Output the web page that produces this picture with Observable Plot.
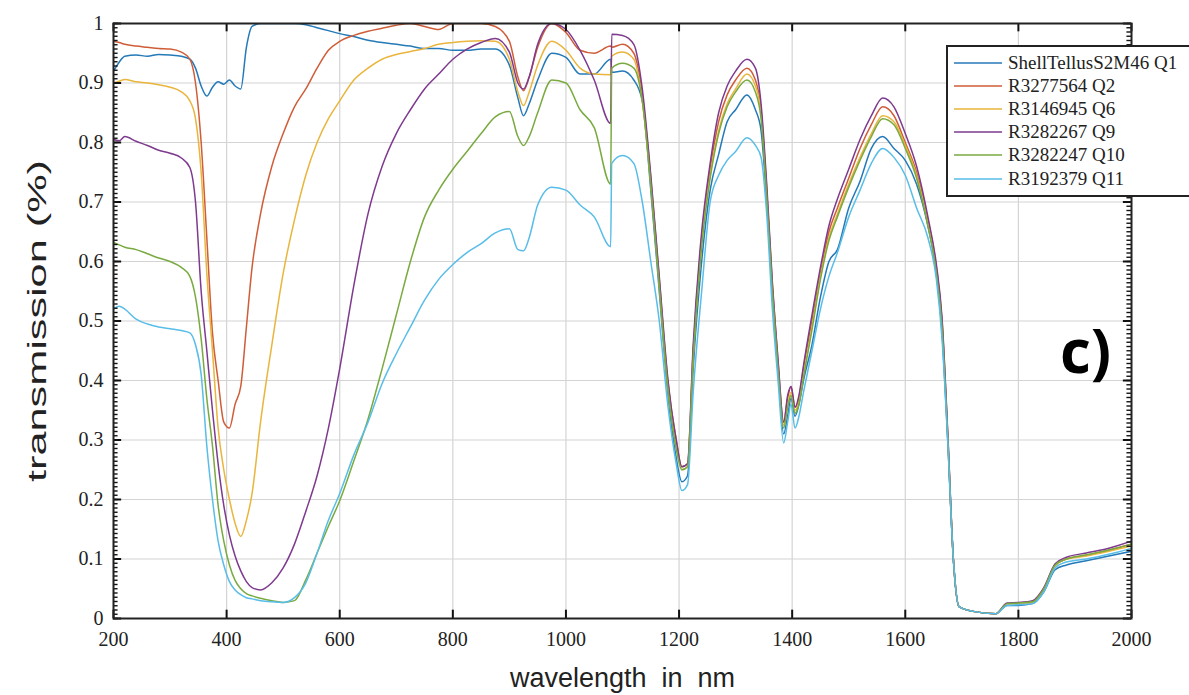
<!DOCTYPE html>
<html>
<head>
<meta charset="utf-8">
<script src="https://cdn.jsdelivr.net/npm/d3@7"></script>
<script src="https://cdn.jsdelivr.net/npm/@observablehq/plot@0.6"></script>
<style>
  html, body { margin: 0; padding: 0; background: #fff; overflow: hidden; }
  #wrap { position: relative; width: 1189px; height: 695px; }
  #legend { position: absolute; left: 946px; top: 45px; width: 270px; height: 152px; border: 2px solid #222; background: #fff; box-sizing: border-box; font-family: "Liberation Serif", "DejaVu Serif", serif; font-size: 19px; color: #222; }
  .row { position: absolute; left: 6px; height: 23px; display: flex; align-items: center; white-space: nowrap; }
  .row svg { margin-right: 6px; }
  #tag { position: absolute; left: 1060px; top: 309px; font-family: "Open Sans", sans-serif; font-weight: 700; font-size: 60px; color: #000; }
</style>
</head>
<body>
<div id="wrap"></div>
<script>
// ---- data ----
const seriesNames = ["ShellTellusS2M46 Q1", "R3277564 Q2", "R3146945 Q6", "R3282267 Q9", "R3282247 Q10", "R3192379 Q11"];
const seriesColors = ["#2479b8", "#cf5d38", "#e9b53c", "#7e3a8e", "#79aa40", "#58bde8"];

const wavelength = [200,210,220,240,260,280,300,320,335,345,355,365,375,385,395,405,415,425,435,445,460,480,500,520,540,560,580,600,625,650,675,700,725,750,775,800,825,850,875,900,915,925,935,950,975,1000,1025,1050,1079,1081,1100,1120,1135,1150,1165,1180,1195,1205,1215,1225,1240,1255,1270,1285,1300,1320,1335,1345,1355,1365,1375,1385,1392,1398,1405,1412,1420,1435,1450,1465,1480,1500,1520,1540,1560,1580,1600,1620,1640,1655,1665,1675,1685,1695,1720,1760,1780,1800,1825,1845,1865,1885,1920,1960,2000];

const q1 = [0.92,0.935,0.945,0.947,0.945,0.948,0.947,0.945,0.94,0.925,0.895,0.878,0.893,0.902,0.898,0.905,0.895,0.89,0.96,0.995,1.0,1.0,1.0,1.0,0.998,0.993,0.988,0.983,0.978,0.972,0.968,0.965,0.962,0.958,0.958,0.955,0.955,0.957,0.957,0.93,0.875,0.845,0.865,0.905,0.95,0.943,0.915,0.915,0.94,0.918,0.92,0.905,0.87,0.72,0.55,0.38,0.27,0.23,0.24,0.42,0.6,0.72,0.78,0.835,0.855,0.88,0.855,0.82,0.7,0.55,0.42,0.31,0.34,0.37,0.34,0.36,0.4,0.46,0.54,0.6,0.62,0.69,0.735,0.79,0.81,0.79,0.77,0.73,0.66,0.58,0.48,0.3,0.1,0.02,0.012,0.008,0.022,0.022,0.025,0.045,0.082,0.09,0.097,0.105,0.113];

const q2 = [0.97,0.968,0.965,0.962,0.96,0.958,0.957,0.952,0.94,0.9,0.8,0.64,0.48,0.4,0.33,0.32,0.36,0.39,0.49,0.59,0.68,0.76,0.815,0.86,0.89,0.925,0.955,0.97,0.98,0.987,0.992,0.997,1.0,0.995,0.99,1.0,1.0,1.0,0.995,0.97,0.91,0.887,0.91,0.96,1.0,0.985,0.955,0.95,0.962,0.96,0.965,0.95,0.88,0.74,0.57,0.4,0.3,0.255,0.26,0.45,0.64,0.755,0.835,0.88,0.905,0.925,0.905,0.855,0.72,0.56,0.43,0.33,0.37,0.39,0.355,0.37,0.42,0.5,0.58,0.65,0.69,0.74,0.79,0.83,0.86,0.845,0.8,0.75,0.67,0.59,0.5,0.31,0.1,0.02,0.012,0.008,0.025,0.026,0.028,0.05,0.09,0.1,0.106,0.115,0.125];

const q6 = [0.9,0.903,0.906,0.902,0.9,0.897,0.893,0.885,0.87,0.84,0.75,0.58,0.45,0.32,0.25,0.2,0.16,0.138,0.165,0.21,0.33,0.46,0.58,0.67,0.745,0.8,0.84,0.87,0.905,0.925,0.94,0.948,0.953,0.958,0.965,0.968,0.97,0.971,0.97,0.94,0.885,0.862,0.885,0.93,0.97,0.955,0.925,0.915,0.914,0.945,0.952,0.94,0.87,0.73,0.56,0.39,0.29,0.25,0.255,0.44,0.63,0.745,0.82,0.865,0.89,0.915,0.895,0.85,0.715,0.555,0.42,0.325,0.36,0.38,0.35,0.365,0.41,0.49,0.575,0.64,0.68,0.73,0.775,0.815,0.845,0.835,0.795,0.745,0.665,0.585,0.495,0.31,0.1,0.02,0.012,0.008,0.025,0.025,0.027,0.05,0.088,0.1,0.105,0.113,0.122];

const q9 = [0.805,0.803,0.81,0.802,0.795,0.787,0.782,0.774,0.758,0.7,0.55,0.45,0.35,0.26,0.19,0.14,0.105,0.08,0.062,0.052,0.048,0.06,0.085,0.125,0.18,0.24,0.32,0.42,0.56,0.68,0.76,0.815,0.855,0.89,0.915,0.94,0.957,0.968,0.975,0.952,0.9,0.89,0.91,0.965,1.0,0.99,0.955,0.905,0.832,0.982,0.98,0.965,0.89,0.745,0.575,0.405,0.3,0.255,0.26,0.46,0.65,0.765,0.85,0.895,0.92,0.94,0.925,0.865,0.73,0.565,0.435,0.33,0.375,0.39,0.355,0.375,0.425,0.51,0.59,0.66,0.705,0.755,0.805,0.845,0.875,0.86,0.815,0.76,0.675,0.595,0.505,0.315,0.1,0.02,0.012,0.008,0.026,0.027,0.03,0.052,0.092,0.103,0.11,0.118,0.13];

const q10 = [0.632,0.628,0.624,0.62,0.613,0.606,0.6,0.59,0.575,0.54,0.47,0.37,0.29,0.19,0.13,0.09,0.064,0.05,0.042,0.038,0.034,0.03,0.027,0.03,0.065,0.11,0.155,0.198,0.265,0.335,0.42,0.51,0.6,0.675,0.72,0.755,0.785,0.815,0.843,0.852,0.81,0.795,0.81,0.85,0.905,0.9,0.855,0.825,0.73,0.925,0.933,0.925,0.87,0.73,0.56,0.39,0.285,0.25,0.255,0.44,0.625,0.74,0.815,0.86,0.885,0.905,0.885,0.84,0.71,0.55,0.42,0.32,0.355,0.375,0.345,0.36,0.405,0.485,0.57,0.635,0.675,0.725,0.77,0.81,0.84,0.83,0.79,0.74,0.66,0.58,0.49,0.305,0.1,0.02,0.012,0.008,0.025,0.026,0.028,0.05,0.09,0.1,0.107,0.115,0.125];

const q11 = [0.52,0.525,0.52,0.503,0.495,0.49,0.487,0.484,0.48,0.46,0.41,0.29,0.2,0.13,0.09,0.062,0.048,0.04,0.035,0.033,0.03,0.028,0.027,0.035,0.06,0.11,0.165,0.21,0.275,0.33,0.395,0.445,0.49,0.535,0.57,0.595,0.615,0.63,0.648,0.655,0.62,0.618,0.64,0.695,0.725,0.72,0.695,0.675,0.625,0.765,0.778,0.765,0.7,0.6,0.5,0.36,0.26,0.215,0.225,0.38,0.55,0.7,0.745,0.77,0.785,0.808,0.795,0.775,0.68,0.52,0.4,0.295,0.33,0.36,0.32,0.34,0.38,0.45,0.52,0.575,0.615,0.675,0.72,0.765,0.79,0.775,0.745,0.69,0.64,0.57,0.47,0.3,0.1,0.02,0.012,0.008,0.022,0.023,0.025,0.045,0.085,0.095,0.1,0.108,0.118];

const xTicks = [200,400,600,800,1000,1200,1400,1600,1800,2000];
const yTicks = [0,0.1,0.2,0.3,0.4,0.5,0.6,0.7,0.8,0.9,1];
const yTickLabels = ["0","0.1","0.2","0.3","0.4","0.5","0.6","0.7","0.8","0.9","1"];
const yMinor = d3.range(0, 141).map(i => i / 140);

// ---- build table ----
const seriesValues = [q1, q2, q6, q9, q10, q11];
const table = seriesValues.flatMap((arr, k) => wavelength.map((w, i) => ({w, v: arr[i], s: seriesNames[k]})));

const xmin = 200, xmax = 2000;
const minorLen = (xmax - xmin) * 0.0045;
const majorLen = (xmax - xmin) * 0.008;

const chart = Plot.plot({
  width: 1189,
  height: 695,
  marginLeft: 113,
  marginRight: 58,
  marginTop: 23,
  marginBottom: 77,
  style: {background: "#fff", fontFamily: "Liberation Serif, serif", fontSize: "20px", color: "#222"},
  x: {domain: [xmin, xmax]},
  y: {domain: [0, 1]},
  color: {domain: seriesNames, range: seriesColors},
  marks: [
    Plot.gridX(xTicks, {stroke: "#d4d4d4", strokeOpacity: 1, strokeWidth: 1.2}),
    Plot.gridY(yTicks, {stroke: "#d4d4d4", strokeOpacity: 1, strokeWidth: 1.2}),
    Plot.line(table, {x: "w", y: "v", z: "s", stroke: "s", strokeWidth: 1.5, curve: "monotone-x", clip: true}),
    // inward tick marks (MATLAB style)
    Plot.ruleX(xTicks, {y1: 0, y2: 0.014, stroke: "#111", strokeWidth: 2}),
    Plot.ruleX(xTicks, {y1: 1, y2: 0.986, stroke: "#111", strokeWidth: 2}),
    Plot.ruleY(yMinor, {x1: xmin, x2: xmin + minorLen, stroke: "#111", strokeWidth: 1.4}),
    Plot.ruleY(yMinor, {x1: xmax, x2: xmax - minorLen, stroke: "#111", strokeWidth: 1.4}),
    Plot.ruleY(yTicks, {x1: xmin, x2: xmin + majorLen, stroke: "#111", strokeWidth: 2}),
    Plot.ruleY(yTicks, {x1: xmax, x2: xmax - majorLen, stroke: "#111", strokeWidth: 2}),
    Plot.frame({stroke: "#222", strokeWidth: 2}),
    Plot.axisX(xTicks, {tickSize: 0, tickPadding: 13, fontSize: 20, fontFamily: "Liberation Serif, serif",
      tickFormat: d => String(d),
      label: "wavelength  in  nm", labelAnchor: "center", labelArrow: "none", labelOffset: 68}),
    Plot.axisY(yTicks, {tickSize: 0, tickPadding: 10, fontSize: 20, fontFamily: "Liberation Serif, serif",
      tickFormat: (d, i) => yTickLabels[i],
      label: "transmission (%)", labelAnchor: "center", labelArrow: "none", labelOffset: 86})
  ]
});

// style axis labels as sans-serif
chart.querySelectorAll("[aria-label='x-axis label'] text").forEach(t => {
  t.setAttribute("font-family", "Liberation Sans, Arial, sans-serif");
  t.style.fontFamily = "Liberation Sans, Arial, sans-serif";
  t.style.fontSize = "27px";
});
chart.querySelectorAll("[aria-label='y-axis label'] text").forEach(t => {
  t.setAttribute("font-family", "Liberation Sans, Arial, sans-serif");
  t.style.fontFamily = "Liberation Sans, Arial, sans-serif";
  t.style.fontSize = "26px";
  t.setAttribute("textLength", "322");
  t.setAttribute("lengthAdjust", "spacingAndGlyphs");
});

const wrap = document.getElementById("wrap");
wrap.appendChild(chart);

// legend
const legend = document.createElement("div");
legend.id = "legend";
seriesNames.forEach((name, k) => {
  const row = document.createElement("div");
  row.className = "row";
  row.style.top = (4 + k * 23.2) + "px";
  row.innerHTML = `<svg width="48" height="10"><line x1="0" y1="5" x2="48" y2="5" stroke="${seriesColors[k]}" stroke-width="1.5"/></svg><span>${name}</span>`;
  legend.appendChild(row);
});
wrap.appendChild(legend);

const tag = document.createElement("div");
tag.id = "tag";
tag.textContent = "c)";
wrap.appendChild(tag);
</script>
</body>
</html>
